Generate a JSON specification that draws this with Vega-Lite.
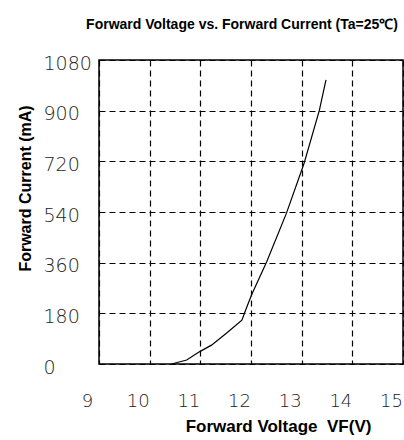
{
  "$schema": "https://vega.github.io/schema/vega-lite/v6.json",
  "width": 304,
  "height": 304,
  "autosize": {"type": "none"},
  "padding": {"left": 99, "top": 60, "right": 1, "bottom": 76},
  "background": "white",
  "title": {
    "text": "Forward Voltage vs. Forward Current (Ta=25℃)",
    "font": "Liberation Sans",
    "fontWeight": "bold",
    "fontSize": 14,
    "color": "black",
    "anchor": "middle",
    "baseline": "middle",
    "offset": 15,
    "dx": -9
  },
  "config": {
    "view": {"stroke": "black", "strokeWidth": 1.5},
    "axis": {
      "grid": true,
      "gridColor": "black",
      "gridDash": [6, 4],
      "gridWidth": 1.2,
      "gridOpacity": 1,
      "domain": false,
      "ticks": false,
      "tickSize": 0,
      "labelFont": "DejaVu Sans",
      "labelFontWeight": 200,
      "labelColor": "#222",
      "labelOverlap": false,
      "labelFlush": false,
      "format": "d",
      "titleFont": "Liberation Sans",
      "titleFontWeight": "bold",
      "titleFontSize": 15,
      "titleColor": "black"
    }
  },
  "data": {
    "values": [
      {"voltage": 10.43, "current": 0},
      {"voltage": 10.73, "current": 14},
      {"voltage": 10.99, "current": 44},
      {"voltage": 11.22, "current": 67},
      {"voltage": 11.52, "current": 110},
      {"voltage": 11.82, "current": 156},
      {"voltage": 11.91, "current": 199},
      {"voltage": 12.01, "current": 245},
      {"voltage": 12.31, "current": 363},
      {"voltage": 12.7, "current": 536},
      {"voltage": 13.05, "current": 714},
      {"voltage": 13.35, "current": 902},
      {"voltage": 13.48, "current": 1009}
    ]
  },
  "mark": {"type": "line", "color": "black", "strokeWidth": 1.2},
  "encoding": {
    "x": {
      "field": "voltage",
      "type": "quantitative",
      "scale": {"domain": [9, 15], "nice": false, "zero": false},
      "axis": {
        "title": "Forward Voltage\u00a0\u00a0VF(V)",
        "values": [9, 10, 11, 12, 13, 14, 15],
        "labelFontSize": 18,
        "labelBaseline": "middle",
        "labelPadding": 37,
        "labelOffset": -12,
        "titleX": 179,
        "titleY": 62,
        "titleFontSize": 17,
        "titleBaseline": "middle",
        "titleAlign": "center"
      }
    },
    "y": {
      "field": "current",
      "type": "quantitative",
      "scale": {"domain": [0, 1080], "nice": false},
      "axis": {
        "title": "Forward Current (mA)",
        "values": [0, 180, 360, 540, 720, 900, 1080],
        "labelFontSize": 19,
        "labelAlign": "left",
        "labelPadding": 56,
        "labelOffset": 3,
        "titleX": -74,
        "titleY": 128,
        "titleFontSize": 16,
        "titleAngle": -90,
        "titleBaseline": "middle",
        "titleAlign": "center"
      }
    }
  }
}
